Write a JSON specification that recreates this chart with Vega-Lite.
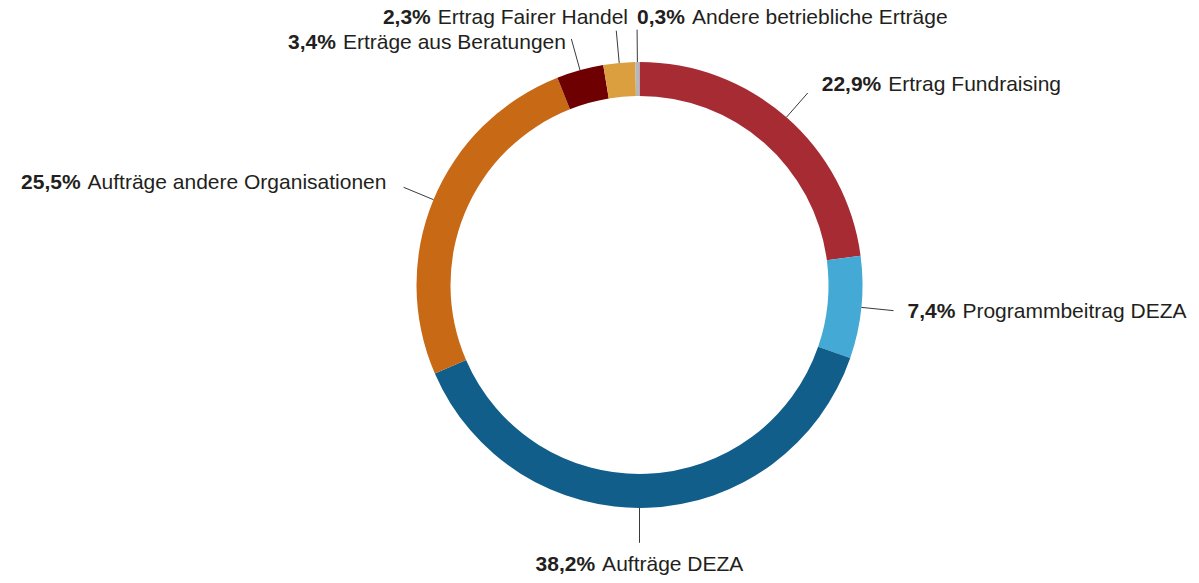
{
  "$schema": "https://vega.github.io/schema/vega-lite/v6.json",
  "width": 1119,
  "height": 570,
  "autosize": {"type": "none"},
  "padding": {"left": 80, "top": 0, "right": 0, "bottom": 13},
  "background": "white",
  "config": {"view": {"stroke": null}},
  "data": {
    "values": [
      {"order": 1, "label": "Ertrag Fundraising", "value": 22.9},
      {"order": 2, "label": "Programmbeitrag DEZA", "value": 7.4},
      {"order": 3, "label": "Aufträge DEZA", "value": 38.2},
      {"order": 4, "label": "Aufträge andere Organisationen", "value": 25.5},
      {"order": 5, "label": "Erträge aus Beratungen", "value": 3.4},
      {"order": 6, "label": "Ertrag Fairer Handel", "value": 2.3},
      {"order": 7, "label": "Andere betriebliche Erträge", "value": 0.3}
    ]
  },
  "transform": [
    {"window": [{"op": "sum", "field": "value", "as": "cum"}], "sort": [{"field": "order", "order": "ascending"}], "frame": [null, 0]},
    {"calculate": "(datum.cum - datum.value/2)/100*2*PI", "as": "mid"},
    {"calculate": "datum.mid*180/PI", "as": "deg"},
    {"calculate": "sin(datum.mid)", "as": "sx"},
    {"calculate": "cos(datum.mid)", "as": "cy"},
    {"calculate": "abs(datum.sx) < 0.1 && datum.cy < 0 ? 'bottom' : datum.deg > 357 ? 'topL' : datum.deg > 350 ? 'topR' : datum.sx > 0 ? 'left' : 'right'", "as": "mode"},
    {"calculate": "datum.mode == 'bottom' ? 0 : datum.sx", "as": "x0"},
    {"calculate": "datum.cy", "as": "y0"},
    {"calculate": "datum.mode == 'bottom' ? 0 : datum.sx*1.145", "as": "x1"},
    {"calculate": "datum.mode == 'bottom' ? datum.cy*1.157 : datum.cy*1.145", "as": "y1"},
    {"calculate": "datum.mode == 'left' ? datum.x1 + 14/223 : datum.mode == 'right' ? datum.x1 - (datum.cy > 0.9 ? 8 : 20)/223 : datum.mode == 'topL' ? datum.x1 : datum.mode == 'topR' ? datum.x1 + 10/223 : 0", "as": "lx"},
    {"calculate": "datum.mode == 'bottom' ? datum.y1 - 22/223 : datum.mode == 'topL' ? datum.y1 + 12/223 : datum.mode == 'topR' ? datum.y1 + 13/223 : datum.y1 + (datum.cy > 0.9 ? -4 : 10*datum.cy)/223", "as": "ly"},
    {"calculate": "replace(format(datum.value, '.1f'), '.', ',') + '%'", "as": "pct"},
    {"calculate": "21*((length(datum.pct) - 2)*0.556 + 0.278 + 0.889)", "as": "pw"},
    {"calculate": "length(replace(datum.label, regexp('[^iltfrj ]', 'g'), ''))", "as": "nn"},
    {"calculate": "length(replace(datum.label, regexp('[^A-ZÄÖÜ]', 'g'), ''))", "as": "nu"},
    {"calculate": "length(replace(datum.label, regexp('[^mw]', 'g'), ''))", "as": "nm"},
    {"calculate": "21*(0.28*datum.nn + 0.68*datum.nu + 0.8*datum.nm + 0.552*(length(datum.label) - datum.nn - datum.nu - datum.nm))", "as": "nw"},
    {"calculate": "datum.pw + 7 + datum.nw", "as": "tw"},
    {"calculate": "datum.mode == 'left' || datum.mode == 'topL' ? datum.lx : datum.mode == 'bottom' ? datum.lx - datum.tw/2/223 : datum.lx - datum.tw/223", "as": "pstart"},
    {"calculate": "datum.pstart + (datum.pw + 7)/223", "as": "nstart"}
  ],
  "layer": [
    {
      "mark": {"type": "arc", "outerRadius": 223, "innerRadius": 189},
      "encoding": {
        "theta": {"field": "value", "type": "quantitative", "stack": true},
        "order": {"field": "order", "type": "quantitative"},
        "color": {
          "field": "label",
          "type": "nominal",
          "legend": null,
          "scale": {
            "domain": ["Ertrag Fundraising", "Programmbeitrag DEZA", "Aufträge DEZA", "Aufträge andere Organisationen", "Erträge aus Beratungen", "Ertrag Fairer Handel", "Andere betriebliche Erträge"],
            "range": ["#A62B33", "#44A9D5", "#115E8B", "#C86915", "#6E0002", "#DC9F3F", "#B4B7BC"]
          }
        }
      }
    },
    {
      "mark": {"type": "rule", "color": "#3a3a3a", "strokeWidth": 1},
      "encoding": {
        "x": {"field": "x0", "type": "quantitative", "axis": null, "scale": {"domain": [-2.509, 2.509], "nice": false, "zero": false}},
        "y": {"field": "y0", "type": "quantitative", "axis": null, "scale": {"domain": [-1.278, 1.278], "nice": false, "zero": false}},
        "x2": {"field": "x1"},
        "y2": {"field": "y1"}
      }
    },
    {
      "mark": {"type": "text", "font": "Liberation Sans", "fontSize": 21, "fontWeight": "bold", "align": "left", "baseline": "middle", "color": "#231F20"},
      "encoding": {
        "x": {"field": "pstart", "type": "quantitative", "axis": null, "scale": {"domain": [-2.509, 2.509], "nice": false, "zero": false}},
        "y": {"field": "ly", "type": "quantitative", "axis": null, "scale": {"domain": [-1.278, 1.278], "nice": false, "zero": false}},
        "text": {"field": "pct"}
      }
    },
    {
      "mark": {"type": "text", "font": "Liberation Sans", "fontSize": 21, "align": "left", "baseline": "middle", "color": "#231F20"},
      "encoding": {
        "x": {"field": "nstart", "type": "quantitative", "axis": null, "scale": {"domain": [-2.509, 2.509], "nice": false, "zero": false}},
        "y": {"field": "ly", "type": "quantitative", "axis": null, "scale": {"domain": [-1.278, 1.278], "nice": false, "zero": false}},
        "text": {"field": "label"}
      }
    }
  ]
}
